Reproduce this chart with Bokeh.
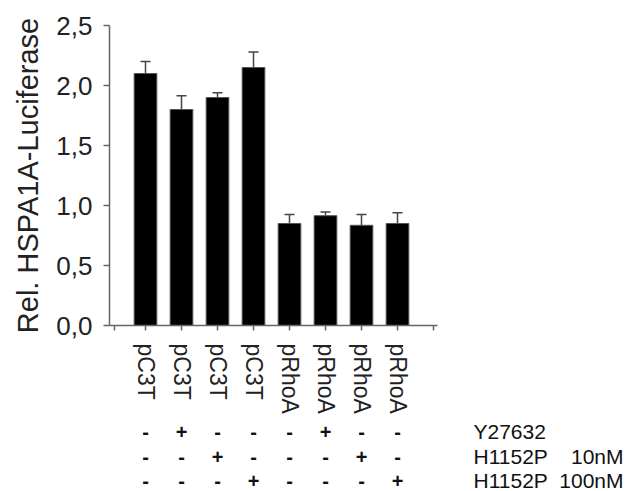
from bokeh.plotting import figure
from bokeh.layouts import column
from bokeh.models import ColumnDataSource, FixedTicker, Whisker, TeeHead, Range1d
from bokeh.core.properties import value
from bokeh.embed import file_html
from bokeh.resources import INLINE

# ---- data ----
categories = ["pC3T", "pC3T", "pC3T", "pC3T", "pRhoA", "pRhoA", "pRhoA", "pRhoA"]
means = [2.10, 1.80, 1.90, 2.15, 0.85, 0.915, 0.835, 0.85]
errors = [0.10, 0.115, 0.04, 0.13, 0.075, 0.03, 0.09, 0.09]
y27632 = ["-", "+", "-", "-", "-", "+", "-", "-"]
h1152p_10 = ["-", "-", "+", "-", "-", "-", "+", "-"]
h1152p_100 = ["-", "-", "-", "+", "-", "-", "-", "+"]
row_names = ["Y27632", "H1152P", "H1152P"]
row_doses = ["", "10nM", "100nM"]
y_ticks = [0.0, 0.5, 1.0, 1.5, 2.0, 2.5]
y_tick_labels = ["0,0", "0,5", "1,0", "1,5", "2,0", "2,5"]
y_label = "Rel. HSPA1A-Luciferase"

FONT = "Liberation Sans"
xs = list(range(1, len(categories) + 1))

W = 629
LEFT = 109          # x of the y axis
PX_X = 36.0         # pixels per category
TOP = 25            # y of value 2.5
FRAME_H = 300       # 0 .. 2.5
BOTTOM = 95         # category label panel
H1 = TOP + FRAME_H + BOTTOM
H2 = 491 - H1

x_range = Range1d(0, (W - LEFT) / PX_X)

p = figure(width=W, height=H1, output_backend="svg", toolbar_location=None,
           x_range=x_range, y_range=Range1d(0, 2.5),
           min_border_left=LEFT, min_border_right=0, min_border_top=TOP,
           min_border_bottom=BOTTOM)
p.outline_line_color = None
p.xgrid.visible = False
p.ygrid.visible = False

src = ColumnDataSource(dict(x=xs, top=means,
                            upper=[m + e for m, e in zip(means, errors)]))
p.vbar(x="x", top="top", bottom=0, width=0.63, source=src,
       fill_color="black", line_color="#555555", line_width=1)

w = Whisker(base="x", upper="upper", lower="top", source=src,
            dimension="height", line_color="#444444", line_width=1.5,
            upper_head=TeeHead(size=10, line_color="#444444", line_width=1.5),
            lower_head=None)
p.add_layout(w)

# y axis
ya = p.yaxis[0]
ya.ticker = FixedTicker(ticks=y_ticks)
ya.major_label_overrides = {t: l for t, l in zip(y_ticks, y_tick_labels)}
ya.minor_tick_line_color = None
ya.major_tick_in = 0
ya.major_tick_out = 6
ya.major_label_standoff = 11
ya.major_label_text_font = FONT
ya.major_label_text_font_size = "26px"
ya.major_label_text_color = "#222222"
ya.axis_line_color = "#666666"
ya.axis_line_width = 1.5
ya.major_tick_line_color = "#666666"
ya.major_tick_line_width = 1.5
ya.axis_label = y_label
ya.axis_label_text_font = FONT
ya.axis_label_text_font_size = "29px"
ya.axis_label_text_font_style = "normal"
ya.axis_label_text_color = "#222222"
ya.axis_label_standoff = 9

# x axis
xa = p.xaxis[0]
xa.bounds = (0, 9.1)
xa.ticker = FixedTicker(ticks=[0.14] + xs + [9])
overrides = {0.14: "", 9: ""}
for x, c in zip(xs, categories):
    overrides[x] = c
xa.major_label_overrides = overrides
xa.major_label_orientation = "vertical"
xa.minor_tick_line_color = None
xa.major_tick_in = 0
xa.major_tick_out = 5
xa.major_label_standoff = 13
xa.major_label_text_font = FONT
xa.major_label_text_font_size = "23px"
xa.major_label_text_color = "#222222"
xa.axis_line_color = "#666666"
xa.axis_line_width = 1.5
xa.major_tick_line_color = "#666666"
xa.major_tick_line_width = 1.5

# ---- treatment table below ----
p2 = figure(width=W, height=H2, output_backend="svg", toolbar_location=None,
            x_range=x_range, y_range=Range1d(0, H2),
            x_axis_location=None, y_axis_location=None,
            min_border_left=LEFT, min_border_right=0, min_border_top=0,
            min_border_bottom=0)
p2.outline_line_color = None
p2.xgrid.visible = False
p2.ygrid.visible = False

row_y = [H2 - 11, H2 - 36, H2 - 60]
for rows, yy in zip([y27632, h1152p_10, h1152p_100], row_y):
    p2.text(x=xs, y=[yy] * len(xs), text=rows, text_font=value(FONT),
            text_font_size="20px", text_font_style="bold",
            text_align="center", text_baseline="middle", text_color="#111111")

name_x = (473 - LEFT) / PX_X
dose_x = (623 - LEFT) / PX_X
p2.text(x=[name_x] * 3, y=row_y, text=row_names, text_font=value(FONT),
        text_font_size="21px", text_align="left", text_baseline="middle",
        text_color="#111111")
p2.text(x=[dose_x] * 3, y=row_y, text=row_doses, text_font=value(FONT),
        text_font_size="21px", text_align="right", text_baseline="middle",
        text_color="#111111")

layout = column(p, p2, spacing=0)
open("out.html", "w").write(file_html(layout, INLINE))
